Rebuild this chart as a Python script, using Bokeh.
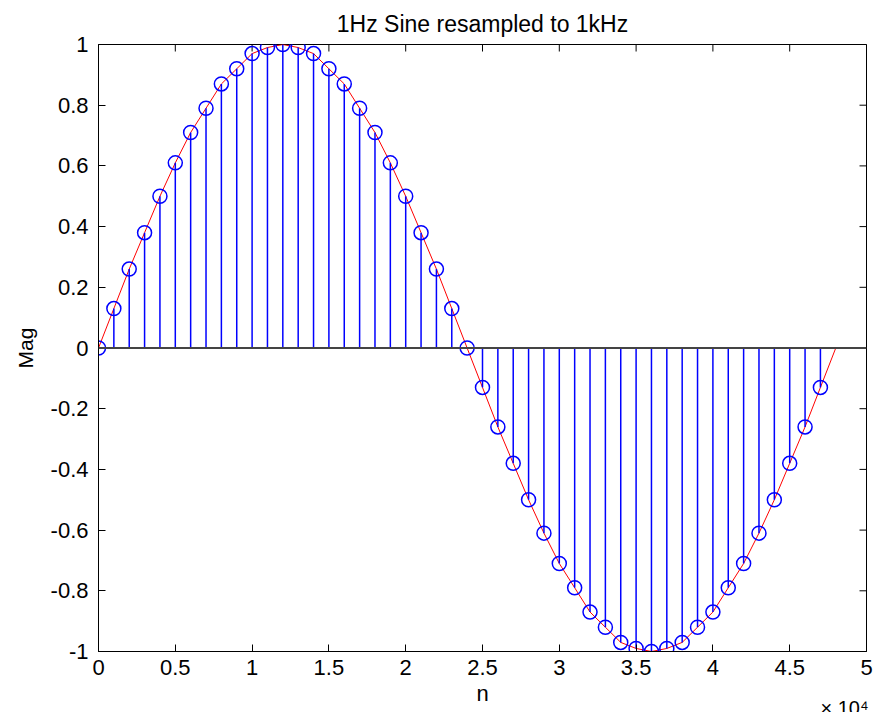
import math
from bokeh.plotting import figure
from bokeh.models import Range1d, FixedTicker, Span, Title
from bokeh.embed import file_html
from bokeh.resources import INLINE

# ---------------- data ----------------
title_text = "1Hz Sine resampled to 1kHz"
x_label = "n"
y_label = "Mag"
x_scale_note = "\u00d7 10\u2074"

stem_n = [0, 1000, 2000, 3000, 4000, 5000, 6000, 7000, 8000, 9000,
          10000, 11000, 12000, 13000, 14000, 15000, 16000, 17000, 18000, 19000,
          20000, 21000, 22000, 23000, 24000, 25000, 26000, 27000, 28000, 29000,
          30000, 31000, 32000, 33000, 34000, 35000, 36000, 37000, 38000, 39000,
          40000, 41000, 42000, 43000, 44000, 45000, 46000, 47000]
stem_mag = [0.00, 0.13, 0.26, 0.38, 0.50, 0.61, 0.71, 0.79, 0.87, 0.92,
            0.97, 0.99, 1.00, 0.99, 0.97, 0.92, 0.87, 0.79, 0.71, 0.61,
            0.50, 0.38, 0.26, 0.13, 0.00, -0.13, -0.26, -0.38, -0.50, -0.61,
            -0.71, -0.79, -0.87, -0.92, -0.97, -0.99, -1.00, -0.99, -0.97, -0.92,
            -0.87, -0.79, -0.71, -0.61, -0.50, -0.38, -0.26, -0.13]

curve_end_n = [48000]
curve_end_mag = [0.00]

x_ticks = [0, 5000, 10000, 15000, 20000, 25000, 30000, 35000, 40000, 45000, 50000]
x_tick_labels = ["0", "0.5", "1", "1.5", "2", "2.5", "3", "3.5", "4", "4.5", "5"]
y_ticks = [-1.0, -0.8, -0.6, -0.4, -0.2, 0.0, 0.2, 0.4, 0.6, 0.8, 1.0]
y_tick_labels = ["-1", "-0.8", "-0.6", "-0.4", "-0.2", "0", "0.2", "0.4", "0.6", "0.8", "1"]

x_min, x_max = 0, 50000
y_min, y_max = -1.0, 1.0

# ---------------- figure ----------------
FONT = "Liberation Sans"
TICK_FS = "22px"

p = figure(width=881, height=712, output_backend="svg", toolbar_location=None,
           x_range=Range1d(x_min, x_max), y_range=Range1d(y_min, y_max),
           min_border_left=98, min_border_right=15, min_border_top=44, min_border_bottom=61,
           title=title_text)
p.background_fill_color = "white"
p.border_fill_color = "white"
p.outline_line_color = "black"
p.outline_line_width = 1
p.grid.visible = False

p.title.align = "center"
p.title.text_font = FONT
p.title.text_font_size = "23px"
p.title.text_font_style = "normal"
p.title.text_color = "#000000"
p.title.standoff = 15

for ax, ticks, labels in ((p.xaxis[0], x_ticks, x_tick_labels), (p.yaxis[0], y_ticks, y_tick_labels)):
    ax.ticker = FixedTicker(ticks=ticks)
    ax.major_label_overrides = {t: l for t, l in zip(ticks, labels)}
    ax.major_tick_in = 7
    ax.major_tick_out = 0
    ax.minor_tick_line_color = None
    ax.axis_line_color = "black"
    ax.major_tick_line_color = "black"
    ax.major_label_text_font = FONT
    ax.major_label_text_font_size = TICK_FS
    ax.major_label_text_color = "#000000"
    ax.axis_label_text_font = FONT
    ax.axis_label_text_font_style = "normal"
    ax.axis_label_text_color = "#000000"

p.xaxis[0].axis_label = x_label
p.xaxis[0].axis_label_text_font_size = "22px"
p.xaxis[0].major_label_standoff = 8
p.xaxis[0].axis_label_standoff = 3
p.yaxis[0].axis_label = y_label
p.yaxis[0].axis_label_text_font_size = "21px"
p.yaxis[0].major_label_standoff = 10
p.yaxis[0].axis_label_standoff = 11

# scale note (x 10^4) as a title in the bottom side panel, pulled up next to the axis label
scale_title = Title(text=x_scale_note, align="right", vertical_align="top", offset=-2,
                    standoff=-24, text_font=FONT, text_font_size="20px",
                    text_font_style="normal", text_color="#000000")
p.add_layout(scale_title, "below")

# mirrored inward ticks on the top and right edges (half of each dash is clipped by the frame)
p.scatter(x_ticks, [y_max] * len(x_ticks), marker="dash", angle=math.pi / 2, size=14,
          line_color="black", line_width=1)
p.scatter([x_max] * len(y_ticks), y_ticks, marker="dash", angle=0, size=14,
          line_color="black", line_width=1)

# baseline
p.add_layout(Span(location=0, dimension="width", line_color="#444444", line_width=2))

# continuous red curve
p.line(stem_n + curve_end_n, stem_mag + curve_end_mag, line_color="#FF0000", line_width=1)

# stems
p.segment(x0=stem_n, y0=[0] * len(stem_n), x1=stem_n, y1=stem_mag,
          line_color="#0000FF", line_width=1.5)
p.scatter(stem_n, stem_mag, marker="circle", size=14, fill_color=None,
          line_color="#0000FF", line_width=1.5)

open("out.html", "w").write(file_html(p, INLINE))
